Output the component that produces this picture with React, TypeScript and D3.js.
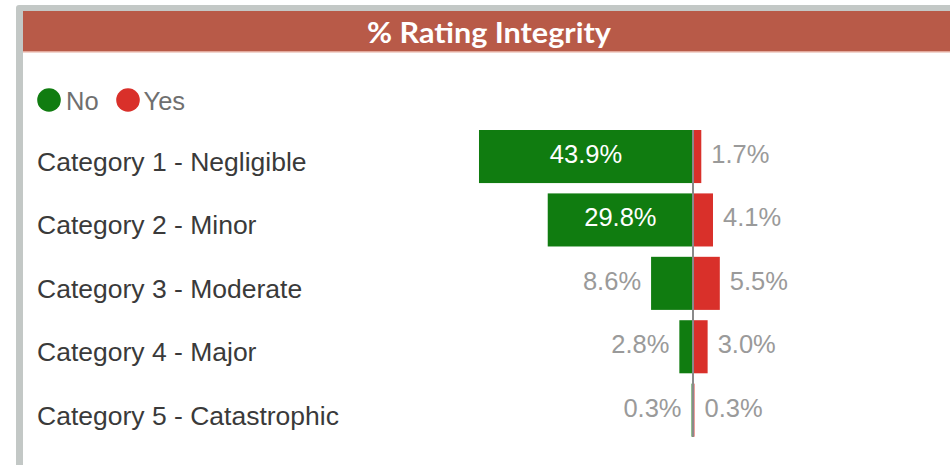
import React from "react";
import * as d3 from "d3";

const categories = [
  "Category 1 - Negligible",
  "Category 2 - Minor",
  "Category 3 - Moderate",
  "Category 4 - Major",
  "Category 5 - Catastrophic",
];
const noValues = [43.9, 29.8, 8.6, 2.8, 0.3];
const yesValues = [1.7, 4.1, 5.5, 3.0, 0.3];
const seriesNames = ["No", "Yes"];
const title = "% Rating Integrity";

const GREEN = "#107C10";
const RED = "#D9302A";
const W = 950;
const H = 465;
const CX = 693;
const PX_PER = 4.875;

export default function App() {
  const x = d3
    .scaleLinear()
    .domain([-50, 50])
    .range([CX - 50 * PX_PER, CX + 50 * PX_PER]);
  const y = d3
    .scaleBand<string>()
    .domain(categories)
    .range([130, 436.7])
    .paddingInner(0.163)
    .paddingOuter(0);
  const bw = y.bandwidth();
  const fmt = (v: number) => d3.format(".1f")(v) + "%";
  const font = "'Liberation Sans', Arial, sans-serif";

  return (
    <svg
      width={W}
      height={H}
      style={{ position: "absolute", left: 0, top: 0, background: "#fff" }}
    >
      {/* frame */}
      <rect x={16} y={5} width={W} height={H} fill="#C3C8C6" rx={3} />
      <rect x={23} y={11} width={W} height={H} fill="#ffffff" />
      {/* header */}
      <rect x={23} y={11} width={W - 23} height={41} fill="#B85A48" />
      <rect x={23} y={51} width={W - 23} height={1.5} fill="#E3A99C" />
      <text
        x={367}
        y={43}
        textAnchor="start"
        fill="#ffffff"
        fontFamily="Lato, 'Open Sans', sans-serif"
        fontWeight={700}
        fontSize={28}
        textLength={244}
        lengthAdjust="spacingAndGlyphs"
      >
        {title}
      </text>

      {/* legend */}
      <circle cx={49} cy={100} r={11.8} fill={GREEN} />
      <text x={66} y={109.5} fill="#6f6f6f" fontFamily={font} fontSize={25.5}>
        {seriesNames[0]}
      </text>
      <circle cx={128} cy={100} r={11.8} fill={RED} />
      <text x={143.5} y={109.5} fill="#6f6f6f" fontFamily={font} fontSize={25.5}>
        {seriesNames[1]}
      </text>

      {/* category labels */}
      {categories.map((c) => (
        <text
          key={c}
          x={37}
          y={(y(c) as number) + bw / 2 + 14.5}
          fill="#3a3a3a"
          fontFamily={font}
          fontSize={26.5}
        >
          {c}
        </text>
      ))}

      {/* bars */}
      {categories.map((c, i) => {
        const y0 = y(c) as number;
        const nv = noValues[i];
        const yv = yesValues[i];
        const cy = y0 + bw / 2;
        const inside = nv > 15;
        return (
          <g key={c}>
            <rect
              x={x(-nv)}
              y={y0}
              width={x(0) - x(-nv)}
              height={bw}
              fill={GREEN}
            />
            <rect
              x={x(0)}
              y={y0}
              width={x(yv) - x(0)}
              height={bw}
              fill={RED}
            />
            {inside ? (
              <text
                x={(x(-nv) + x(0)) / 2}
                y={cy + 6.5}
                textAnchor="middle"
                fill="#ffffff"
                fontFamily={font}
                fontSize={25.5}
              >
                {fmt(nv)}
              </text>
            ) : (
              <text
                x={x(-nv) - 10}
                y={cy + 6.5}
                textAnchor="end"
                fill="#9a9a9a"
                fontFamily={font}
                fontSize={25.5}
              >
                {fmt(nv)}
              </text>
            )}
            <text
              x={x(yv) + 10}
              y={cy + 6.5}
              textAnchor="start"
              fill="#9a9a9a"
              fontFamily={font}
              fontSize={25.5}
            >
              {fmt(yv)}
            </text>
          </g>
        );
      })}

      {/* center axis line */}
      <line
        x1={x(0)}
        x2={x(0)}
        y1={y.range()[0]}
        y2={y.range()[1]}
        stroke="#8a8a8a"
        strokeWidth={2}
      />
    </svg>
  );
}
